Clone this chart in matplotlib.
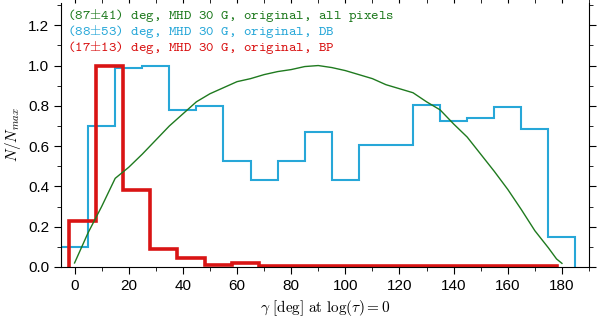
import matplotlib
matplotlib.use("Agg")
import matplotlib.pyplot as plt
from matplotlib.ticker import MultipleLocator
import numpy as np

plt.rcParams['mathtext.fontset'] = 'cm'
plt.rcParams['font.family'] = ['Liberation Sans', 'DejaVu Sans']

# DB histogram (10 deg bins starting at -5)
db_edges = np.arange(-5, 186, 10)
db_vals = [0.10, 0.70, 0.99, 1.00, 0.78, 0.80, 0.525, 0.43, 0.525, 0.67,
           0.43, 0.605, 0.605, 0.805, 0.725, 0.74, 0.795, 0.685, 0.15]

# BP histogram (10 deg bins starting at -2)
bp_edges = np.arange(-2, 179, 10)
bp_vals = [0.23, 1.00, 0.38, 0.09, 0.045, 0.012, 0.018, 0.007, 0.007, 0.007,
           0.007, 0.007, 0.007, 0.007, 0.007, 0.007, 0.007, 0.007]

# all pixels distribution
all_gamma = [0, 5, 10, 15, 20, 25, 30, 35, 40, 45, 50, 55, 60, 65, 70, 75, 80,
             85, 90, 95, 100, 105, 110, 115, 120, 125, 130, 135, 140, 145, 150,
             155, 160, 165, 170, 175, 178, 180]
all_vals = [0.02, 0.17, 0.30, 0.44, 0.495, 0.56, 0.63, 0.70, 0.76, 0.82, 0.86,
            0.89, 0.92, 0.935, 0.955, 0.97, 0.98, 0.995, 1.0, 0.99, 0.975,
            0.955, 0.935, 0.905, 0.885, 0.865, 0.82, 0.78, 0.71, 0.645, 0.56,
            0.475, 0.385, 0.285, 0.18, 0.095, 0.04, 0.018]

labels = [r"(87$\pm$41) deg, MHD 30 G, original, all pixels",
          r"(88$\pm$53) deg, MHD 30 G, original, DB",
          r"(17$\pm$13) deg, MHD 30 G, original, BP"]
colors = ['#1f7a1f', '#27a7d8', '#d91414']

fig = plt.figure(figsize=(6, 3.23), dpi=100)
ax = fig.add_axes([0.1017, 0.1734, 0.88, 0.817])

ax.plot(all_gamma, all_vals, color=colors[0], lw=1.0)
ax.stairs(db_vals, db_edges, color=colors[1], lw=1.5)
ax.stairs(bp_vals, bp_edges, color=colors[2], lw=2.6)

ax.set_xlim(-5, 190)
ax.set_ylim(0, 1.31)
ax.xaxis.set_major_locator(MultipleLocator(20))
ax.xaxis.set_minor_locator(MultipleLocator(10))
ax.yaxis.set_major_locator(MultipleLocator(0.2))
ax.yaxis.set_minor_locator(MultipleLocator(0.1))
ax.spines['top'].set_visible(False)
ax.tick_params(which='both', direction='out', labelsize=11, right=True, top=True)
ax.tick_params(which='major', length=5)
ax.tick_params(which='minor', length=3)

ax.set_xlabel(r"$\gamma\ [\mathrm{deg}]\ \mathrm{at}\ \log(\tau)=0$", fontsize=11)
ax.set_ylabel(r"$N/N_{max}$", fontsize=11)

for k, (lab, c) in enumerate(zip(labels, colors)):
    ax.text(0.011, 0.952 - k * 0.061, lab, transform=ax.transAxes, color=c,
            fontsize=10.3, family='cmtt10', va='center', ha='left')

fig.savefig("out.png", dpi=100)
